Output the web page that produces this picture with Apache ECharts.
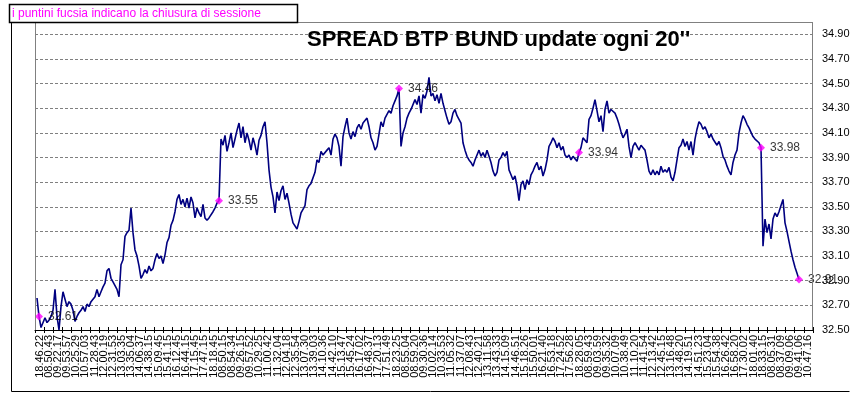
<!DOCTYPE html>
<html><head><meta charset="utf-8">
<script src="https://cdn.jsdelivr.net/npm/echarts@6/dist/echarts.min.js"></script>
<style>html,body{margin:0;padding:0;background:#fff}#c{width:861px;height:393px}</style>
</head><body><div id="c"></div>
<script>
const timeLabels = [
"18.46.22",
"08.50.43","09.22.17","09.53.57","10.25.29","10.57.03","11.28.43","12.00.19","12.31.53","13.03.35","13.35.04","14.06.37","14.38.15","15.09.45","15.41.15","16.12.45","16.44.15","17.15.45","17.47.15","18.18.45",
"08.50.15","08.54.34","09.26.15","09.57.52","10.29.25","11.00.42","11.32.04","12.04.18","12.35.54","13.07.30","13.39.03","14.10.36","14.42.10","15.13.47","15.45.24","16.17.02","16.48.37","17.20.13","17.51.49","18.23.25",
"08.55.04","08.59.20","09.30.36","10.02.14","10.33.53","11.05.32","11.37.07","12.08.43","12.40.21","13.11.58","13.43.33","14.15.09","14.46.51","15.18.26","15.50.01","16.21.40","16.53.18","17.24.52","17.56.28","18.28.05",
"08.59.43","09.03.59","09.35.32","10.07.09","10.38.49","11.10.20","11.41.54","12.13.42","12.45.15","13.16.48","13.48.20","14.19.51","14.51.23","15.23.04","15.54.38","16.26.42","16.58.20","17.30.02","18.01.40","18.33.15",
"08.05.31","08.37.09","09.09.06","09.41.06","10.47.16"
];

const session1 = [32.76, 32.61];
const session2 = [
32.52,32.53,32.60,32.56,32.58,32.61,32.66,32.83,32.61,32.50,
32.69,32.81,32.75,32.69,32.73,32.71,32.66,32.57,32.61,32.64,
32.66,32.69,32.65,32.71,32.69,32.73,32.72,32.77,32.83,32.77,
32.81,32.85,32.88,32.98,33.00,32.92,32.89,32.88,32.83,32.77,
33.03,33.07,33.26,33.29,33.31,33.49,33.29,33.15,33.10,33.02,
32.92,32.95,32.99,32.96,33.02,32.98,33.00,33.07,33.12,33.08,
33.10,33.04,33.11,33.21,33.25,33.35,33.39,33.46,33.56,33.60,
33.52,33.56,33.50,33.57,33.49,33.58,33.53,33.41,33.49,33.45,
33.42,33.52,33.41,33.39,33.41,33.42,33.46,33.49,33.53,33.55
];
const session3 = [
34.05,34.00,34.08,33.95,34.02,34.10,33.98,34.05,34.12,34.18,
34.06,34.15,34.02,34.10,34.04,33.96,34.06,34.00,33.92,34.04,
34.08,34.15,34.19,34.02,33.80,33.66,33.58,33.45,33.62,33.55,
33.63,33.67,33.56,33.61,33.53,33.44,33.37,33.36,33.32,33.38,
33.45,33.48,33.51,33.64,33.67,33.69,33.68,33.78,33.88,33.86,
33.95,33.92,33.91,33.96,33.98,33.92,34.05,34.09,34.06,33.99,
33.83,34.07,34.15,34.22,34.10,34.05,34.11,34.07,34.14,34.17,
34.13,34.18,34.19,34.22,34.15,34.06,34.02,33.96,33.99,34.09,
34.19,34.15,34.22,34.25,34.28,34.26,34.32,34.36,34.40,34.46
];
const session4 = [
33.99,34.10,34.15,34.22,34.26,34.29,34.30,34.37,34.33,34.40,
34.26,34.41,34.38,34.44,34.55,34.40,34.42,34.36,34.41,34.34,
34.42,34.34,34.28,34.22,34.17,34.19,34.26,34.29,34.24,34.25,
34.18,34.02,33.96,33.91,33.88,33.86,33.83,33.88,33.92,33.96,
33.91,33.94,33.90,33.96,33.91,33.86,33.79,33.75,33.78,33.88,
33.90,33.94,33.91,33.95,33.80,33.76,33.72,33.75,33.67,33.55,
33.68,33.71,33.64,33.72,33.68,33.76,33.79,33.83,33.86,33.80,
33.83,33.75,33.80,33.88,33.99,34.02,34.06,34.03,33.98,34.02,
33.96,33.99,33.92,33.90,33.92,33.88,33.91,33.90,33.87,33.94
];
const session5 = [
33.98,34.06,34.07,34.02,34.21,34.24,34.30,34.37,34.28,34.19,
34.24,34.11,34.29,34.36,34.26,34.29,34.30,34.26,34.22,34.17,
34.11,34.06,34.09,34.13,33.99,33.90,33.99,34.02,33.99,33.96,
34.00,33.98,33.96,33.88,33.79,33.76,33.80,33.76,33.79,33.76,
33.83,33.78,33.80,33.78,33.82,33.74,33.71,33.78,33.88,33.98,
34.00,34.05,33.99,34.03,33.96,34.03,33.92,34.05,34.13,34.19,
34.17,34.13,34.15,34.11,34.06,34.09,34.05,34.06,34.00,34.03,
33.98,33.91,33.88,33.83,33.79,33.76,33.86,33.92,33.96,34.10,
34.18,34.24,34.21,34.17,34.14,34.15,34.07,34.05,34.06,34.02,
33.98
];
const session6 = [
33.18,33.40,33.29,33.36,33.24,33.40,33.45,33.42,33.46,33.51,
33.56,33.37,33.30,33.22,33.14,33.07,33.01,32.96,32.91
];

const sessions = [session1, session2, session3, session4, session5, session6];
const values = [].concat(...sessions);
const linePoints = values.map((v, i) => [i, v]);
const closePoints = [];
let acc = 0;
sessions.forEach(s => { acc += s.length; closePoints.push([acc - 1, values[acc - 1]]); });

const FONT = "'Liberation Sans', Arial, sans-serif";
const chart = echarts.init(document.getElementById('c'));
chart.setOption({
  animation: false,
  backgroundColor: '#fff',
  title: {
    text: "SPREAD BTP BUND update ogni 20''",
    left: 302, top: 24,
    textStyle: { fontSize: 22, fontWeight: 'bold', color: '#000', fontFamily: FONT }
  },
  grid: { left: 35, top: 22, right: 48, bottom: 63, containLabel: false },
  xAxis: [
    {
      type: 'category', data: timeLabels, boundaryGap: true, position: 'bottom',
      axisLine: { show: true, onZero: false, lineStyle: { color: '#000', width: 1 } },
      axisTick: { show: true, inside: false, length: 3, interval: 0, lineStyle: { color: '#000' } },
      axisLabel: { interval: 0, rotate: 90, fontSize: 11, color: '#000', margin: 5, fontFamily: FONT },
      splitLine: { show: false }
    },
    { type: 'value', min: -1, max: 388, show: false },
    {
      type: 'category', data: timeLabels, boundaryGap: true, position: 'bottom',
      axisLine: { show: false, onZero: false },
      axisTick: { show: true, inside: true, length: 3, interval: 0, lineStyle: { color: '#000' } },
      axisLabel: { show: false }, splitLine: { show: false }
    }
  ],
  yAxis: {
    type: 'value', position: 'right', min: 32.5, max: 35.0, interval: 0.2,
    axisLine: { show: false, onZero: false },
    axisTick: { show: false },
    axisLabel: { formatter: v => v.toFixed(2), showMaxLabel: false, fontSize: 11, color: '#000', margin: 9, fontFamily: FONT },
    splitLine: { show: true, lineStyle: { color: '#808080', type: [3, 2], width: 1 } }
  },
  series: [
    {
      type: 'line', xAxisIndex: 1, data: linePoints, symbol: 'none',
      lineStyle: { color: '#000080', width: 1.6 }, z: 3
    },
    {
      type: 'scatter', xAxisIndex: 1, data: closePoints, symbol: 'diamond', symbolSize: 8,
      itemStyle: { color: '#FF00FF' }, z: 5,
      label: { show: true, position: 'right', distance: 5, formatter: p => p.value[1].toFixed(2),
               color: '#000', fontSize: 12, fontFamily: FONT }
    }
  ],
  graphic: [
    { type: 'polyline', z: 10, shape: { points: [[35.5, 330], [35.5, 22.5], [812.5, 22.5], [812.5, 330]] },
      style: { stroke: '#808080', fill: null, lineWidth: 1 } },
    { type: 'polyline', z: 10, shape: { points: [[11.5, 23], [11.5, 391.5], [849.5, 391.5]] },
      style: { stroke: '#000', fill: null, lineWidth: 1 } },
    { type: 'rect', z: 20, shape: { x: 9.5, y: 4.5, width: 288, height: 18 },
      style: { fill: '#fff', stroke: '#000', lineWidth: 1.5 } },
    { type: 'text', z: 21, style: { text: 'i puntini fucsia indicano la chiusura di sessione', x: 12, y: 13.5,
      verticalAlign: 'middle', fill: '#FF00FF', fontSize: 12, fontFamily: FONT } }
  ]
});
</script></body></html>
